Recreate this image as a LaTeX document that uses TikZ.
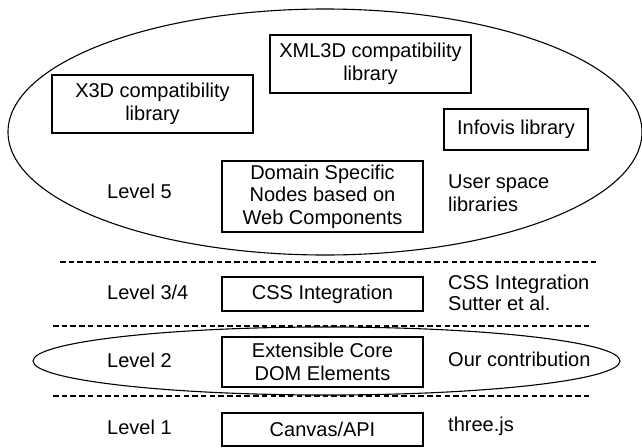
\documentclass[tikz,border=0pt]{standalone}
\usepackage{fontspec}
\setmainfont{Liberation Sans}
\usetikzlibrary{shapes.geometric}
\begin{document}
\begin{tikzpicture}[x=1pt,y=-1pt,
  every node/.style={font=\fontsize{20}{22.5}\selectfont},
  box/.style={draw,line width=1.1pt,inner sep=0pt,align=center,minimum width=201pt},
  lvl/.style={anchor=west,inner sep=0pt},
  note/.style={anchor=west,inner sep=0pt,align=left},
  sep/.style={dashed,dash pattern=on 5.5pt off 3.2pt,line width=1.1pt},
  ring/.style={line width=1.1pt}]
\useasboundingbox (0,0) rectangle (642,447);
% ellipses
\draw[ring] (325,132) ellipse [x radius=317pt, y radius=123pt];
\draw[ring] (326.5,361) ellipse [x radius=293.5pt, y radius=34pt];
% level 5 content
\node[box,minimum height=58pt] (xml3d) at (370.5,64) {XML3D compatibility\\library};
\node[box,minimum height=58pt] (x3d) at (152.5,104) {X3D compatibility\\library};
\node[box,minimum width=144pt,minimum height=41pt] (infovis) at (516,129.5) {Infovis library};
\node[box,minimum height=71pt] (domain) at (322.5,196.5) {Domain Specific\\Nodes based on\\Web Components};
\node[lvl] (l5) at (107,191) {Level 5};
\node[note] (user) at (448,193) {User space\\libraries};
% separators
\draw[sep] (60,262) -- (598,262);
\draw[sep] (53,326) -- (590,326);
\draw[sep] (53,396) -- (590,396);
% level 3/4
\node[lvl] (l34) at (107,292) {Level 3/4};
\node[box,minimum height=34pt] (css) at (322.5,294) {CSS Integration};
\node[note,font=\fontsize{20}{20.5}\selectfont] (sutter) at (448,293) {CSS Integration\\Sutter et al.};
% level 2
\node[lvl] (l2) at (107,360) {Level 2};
\node[box,minimum height=50pt] (ext) at (322.5,362) {Extensible Core\\DOM Elements};
\node[note] (ours) at (448,359) {Our contribution};
% level 1
\node[lvl] (l1) at (107,427) {Level 1};
\node[box,minimum height=33pt] (canvas) at (322.5,429.5) {Canvas/API};
\node[note] (three) at (448,426) {three.js};
\end{tikzpicture}
\end{document}
